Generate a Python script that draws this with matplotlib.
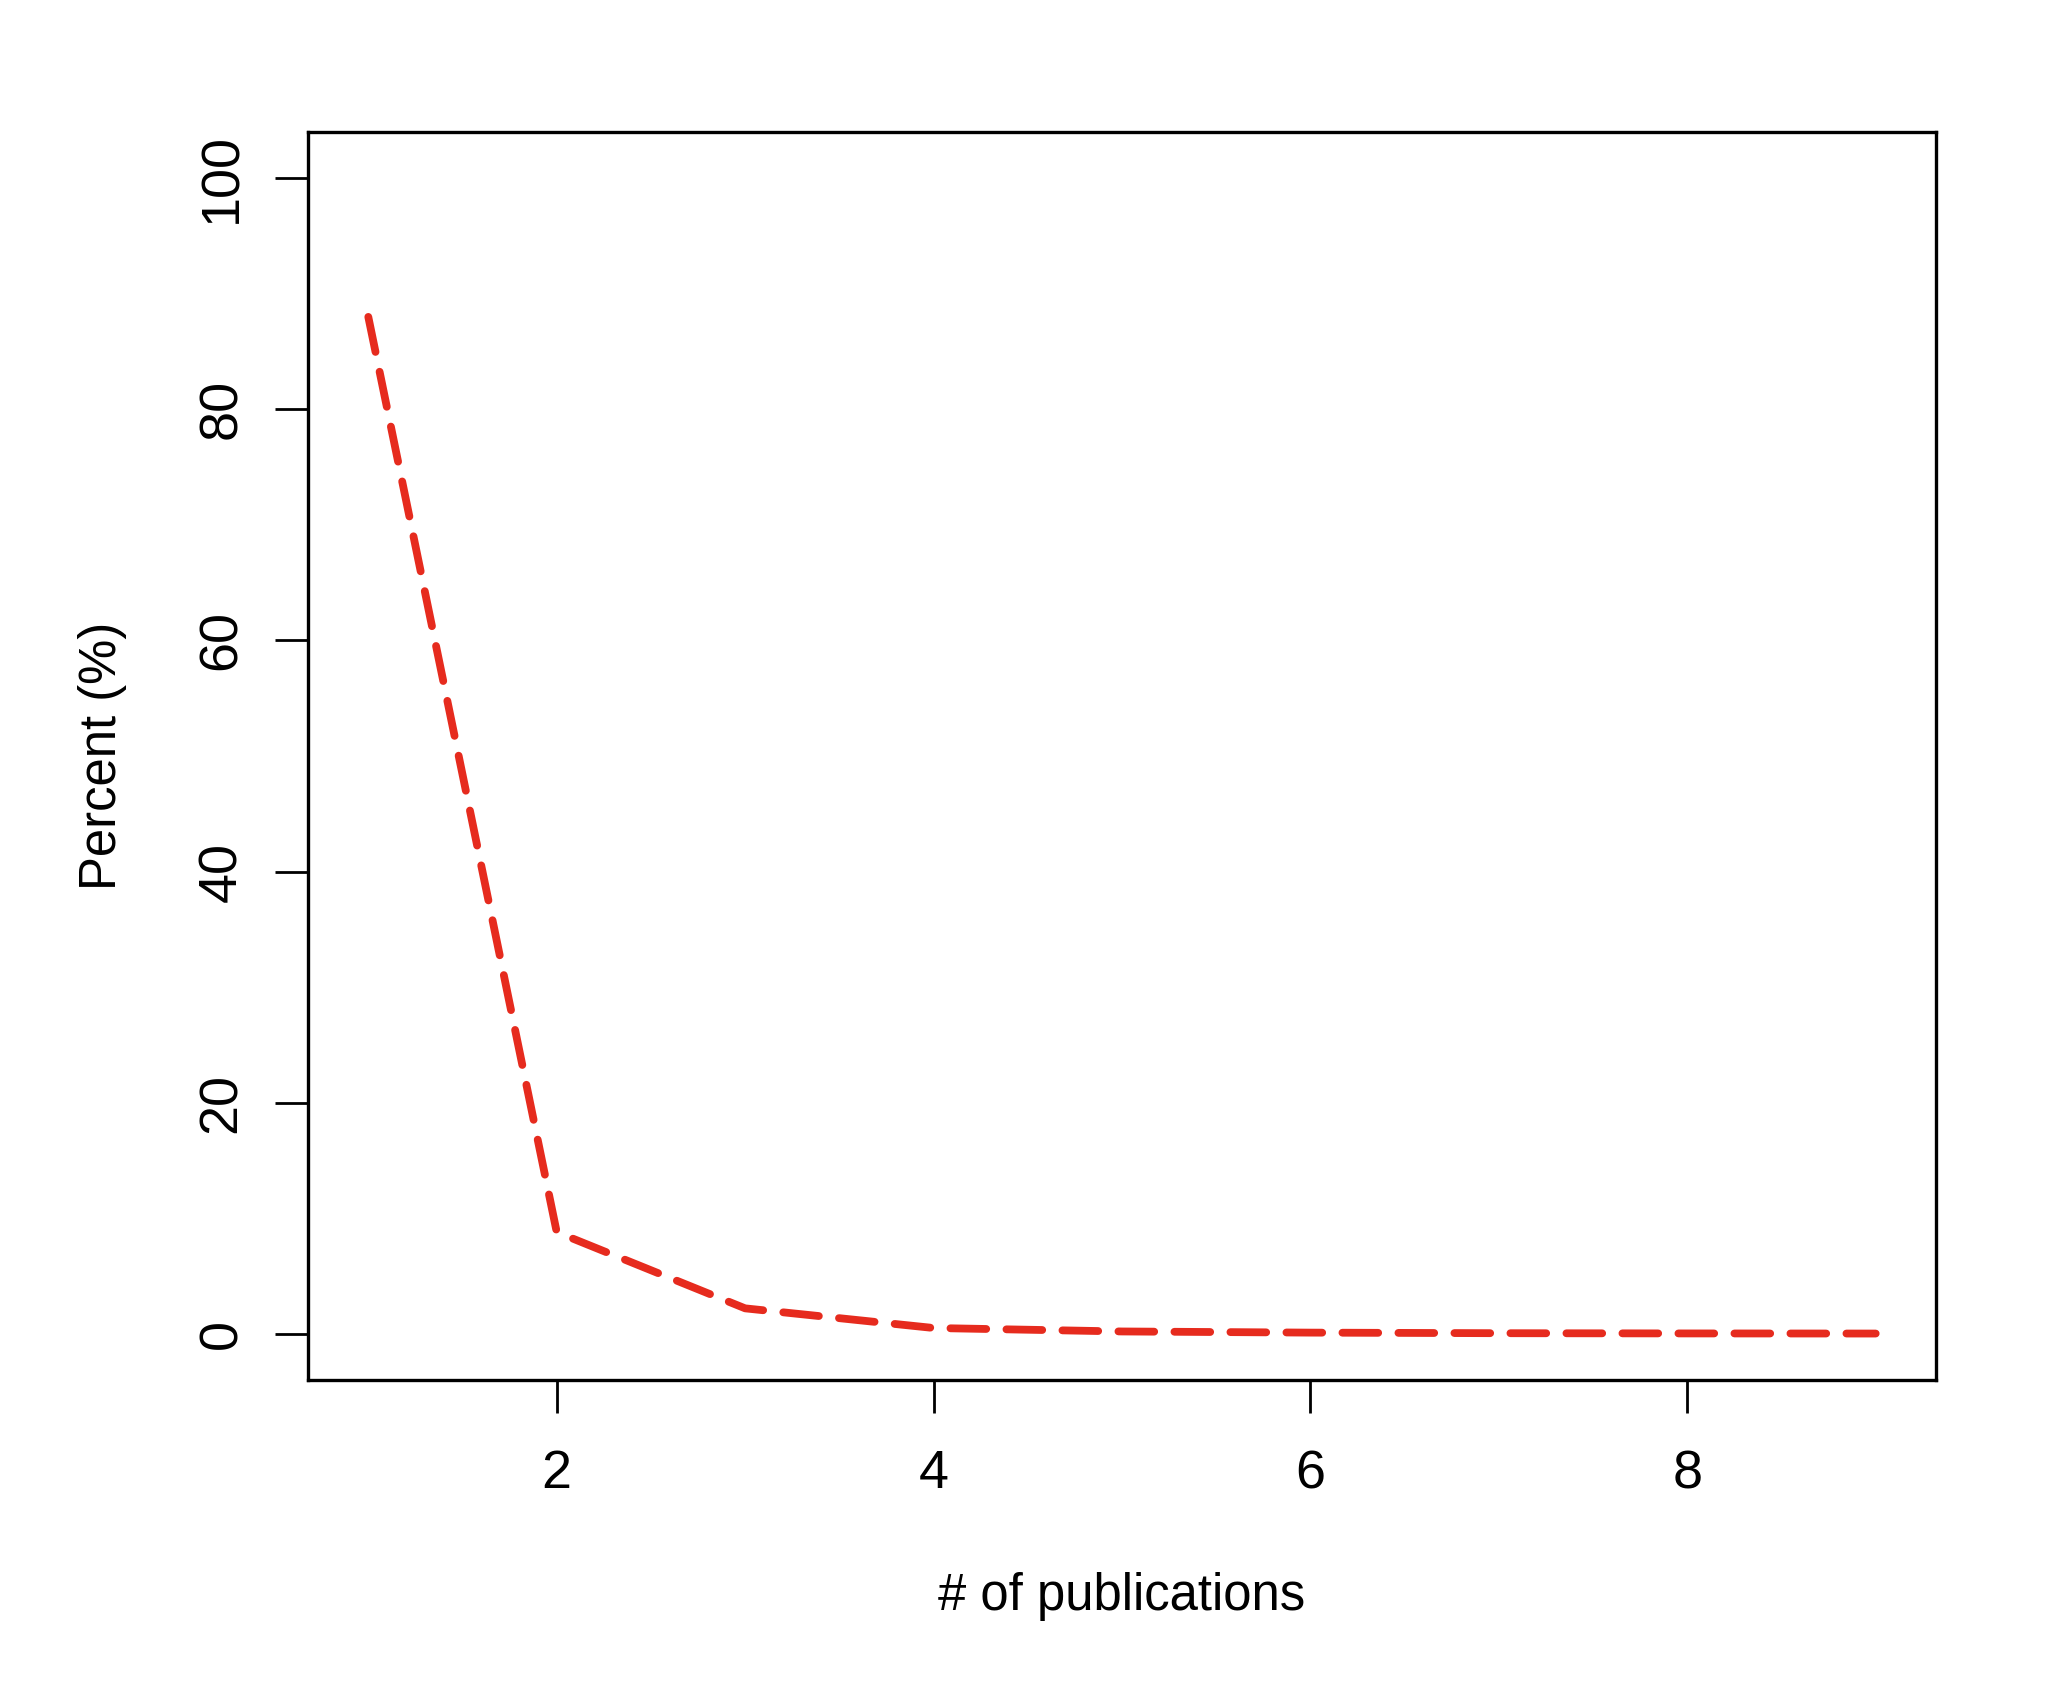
import matplotlib
matplotlib.use("Agg")
import matplotlib.pyplot as plt

# Data
n_publications = [1, 2, 3, 4, 5, 6, 7, 8, 9]
percent = [88.0, 8.8, 2.2, 0.5, 0.2, 0.1, 0.05, 0.03, 0.02]
x_ticks = [2, 4, 6, 8]
y_ticks = [0, 20, 40, 60, 80, 100]

plt.rcParams['font.family'] = ['Liberation Sans', 'DejaVu Sans']

W, H, DPI = 2057, 1705, 200
fig = plt.figure(figsize=(W / DPI, H / DPI), dpi=DPI)
left, right, top, bottom = 308, 1936, 132, 1380
ax = fig.add_axes([left / W, 1 - bottom / H, (right - left) / W, (bottom - top) / H])

line, = ax.plot(n_publications, percent, color='#E62B1E', lw=2.8,
                solid_capstyle='round', dash_capstyle='round')
line.set_dashes([4.6, 2.6])

ax.set_xlim(0.68, 9.32)
ax.set_ylim(-4, 104)
ax.set_xticks(x_ticks)
ax.set_yticks(y_ticks)
ax.set_yticklabels([str(v) for v in y_ticks], rotation=90, va='center')

for s in ax.spines.values():
    s.set_linewidth(1.2)
ax.tick_params(axis='both', direction='out', length=12, width=1.0,
               labelsize=19.4, colors='black')
ax.tick_params(axis='x', pad=13)
ax.tick_params(axis='y', pad=10)

ax.set_xlabel('# of publications', fontsize=18.3, labelpad=26)
ax.set_ylabel('Percent (%)', fontsize=18.3, labelpad=25)

fig.savefig('out.png', dpi=DPI, facecolor='white')
